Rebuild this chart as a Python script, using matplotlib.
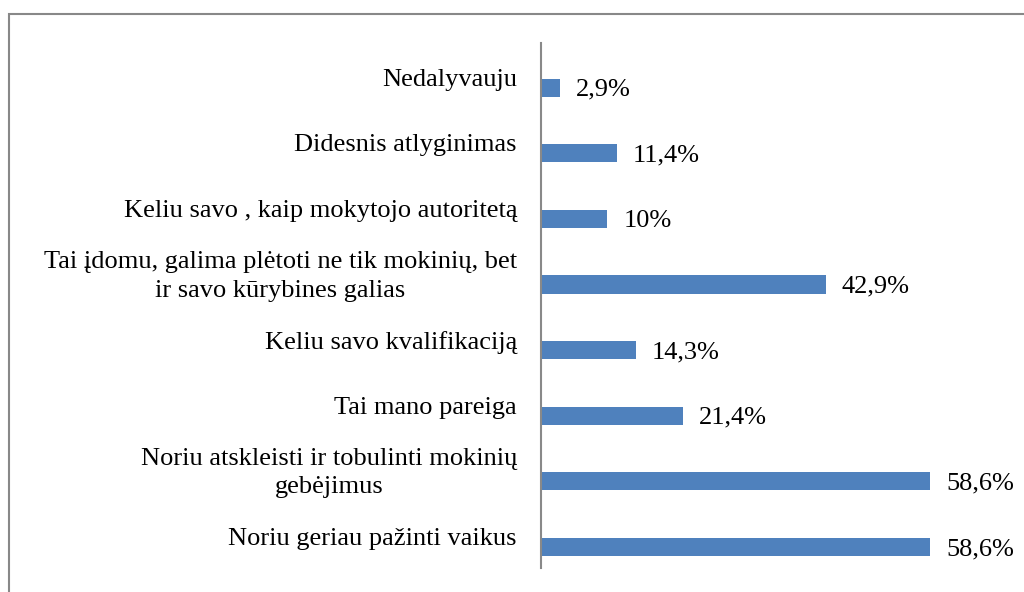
import matplotlib
matplotlib.use("Agg")
import matplotlib.pyplot as plt
from matplotlib.patches import Rectangle

categories = [
    "Noriu geriau pažinti vaikus",
    "Noriu atskleisti ir tobulinti mokinių\ngebėjimus",
    "Tai mano pareiga",
    "Keliu savo kvalifikaciją",
    "Tai įdomu, galima plėtoti ne tik mokinių, bet\nir savo kūrybines galias",
    "Keliu savo , kaip mokytojo autoritetą",
    "Didesnis atlyginimas",
    "Nedalyvauju",
]
values = [58.6, 58.6, 21.4, 14.3, 42.9, 10, 11.4, 2.9]
value_labels = ["58,6%", "58,6%", "21,4%", "14,3%", "42,9%", "10%", "11,4%", "2,9%"]

plt.rcParams['font.family'] = ['Liberation Serif', 'DejaVu Serif']

W, H = 1024, 592
fig = plt.figure(figsize=(W / 100, H / 100), dpi=100)
ax_left = 541 / W
ax_bottom = 1 - 568 / H
ax_top = 1 - 43 / H
xmax = 70
ax_width = (930 - 541) / 58.6 * xmax / W
ax = fig.add_axes([ax_left, ax_bottom, ax_width, ax_top - ax_bottom])

y = list(range(len(categories)))
ax.barh(y, values, height=0.275, color="#4F81BD")
ax.set_xlim(0, xmax)
shift = 0.18
ax.set_ylim(-0.5 + shift, len(categories) - 0.5 + shift)

for s in ["top", "right", "bottom"]:
    ax.spines[s].set_visible(False)
ax.spines["left"].set_color("#898989")
ax.spines["left"].set_linewidth(1.5)
ax.set_xticks([])
ax.set_yticks([])

for yi, cat in zip(y, categories):
    ax.annotate(cat, xy=(0, yi), xytext=(-24, 8), textcoords="offset pixels",
                ha="right", va="center", multialignment="center",
                fontsize=19, linespacing=1.36, color="black")

for yi, v, lab in zip(y, values, value_labels):
    ax.annotate(lab, xy=(v, yi), xytext=(16, -2), textcoords="offset pixels",
                ha="left", va="center", fontsize=19, color="black")

border = Rectangle((9 / W, -0.1), 1.2, 1 - 13.5 / H + 0.1, transform=fig.transFigure,
                   fill=False, edgecolor="#888888", linewidth=1.5, clip_on=False)
fig.patches.append(border)

fig.savefig("out.png", dpi=100)
